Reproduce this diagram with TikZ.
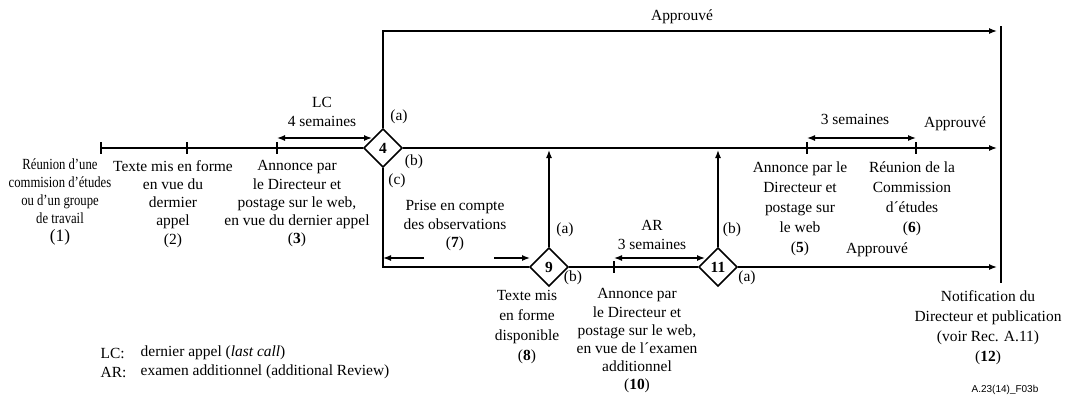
\documentclass[tikz,border=0pt]{standalone}
\usepackage{fontspec}
\setmainfont{Liberation Serif}
\newfontfamily\condfont{Liberation Serif}[FakeStretch=0.82]
\newfontfamily\labfont{Liberation Sans}
\usetikzlibrary{arrows.meta,shapes.geometric}
\begin{document}
\begin{tikzpicture}[x=0.75pt,y=-0.75pt,
  >={Latex[length=6pt,width=4.5pt]},
  every path/.style={line width=1pt},
  txt/.style={align=center,inner sep=0pt,anchor=north,font=\fontsize{11.6}{13.6}\selectfont},
  wide/.style={font=\fontsize{11.6}{15}\selectfont},
  lbl/.style={inner sep=0pt,font=\fontsize{11.6}{13}\selectfont},
  dia/.style={diamond,draw,line width=1.2pt,minimum width=29pt,minimum height=29pt,inner sep=0pt,fill=white,font=\fontsize{11.6}{13}\selectfont\bfseries}]
\useasboundingbox (0,0) rectangle (1069,407);
% coordinates
\coordinate (s1) at (101,148);
\coordinate (t2) at (187,148);
\coordinate (t3) at (277,148);
\coordinate (t5) at (807,148);
\coordinate (t6) at (916,148);
\coordinate (e1) at (997,148);
\coordinate (top1) at (383,31);
\coordinate (e2) at (997,31);
\coordinate (bar1) at (1001,26);
\coordinate (bar2) at (1001,283);
\coordinate (bl) at (383,267);
\coordinate (up9) at (549,150);
\coordinate (up11) at (718,150);
\coordinate (t10) at (614,267);
\coordinate (e3) at (997,267);
\coordinate (lcA) at (277,138);
\coordinate (lcB) at (372,138);
\coordinate (smA) at (807,138);
\coordinate (smB) at (916,138);
\coordinate (pA) at (424,258);
\coordinate (pB) at (383,258);
\coordinate (pC) at (494,258);
\coordinate (pD) at (530,258);
\coordinate (arA) at (614,258);
\coordinate (arB) at (705,258);
% diamonds
\node[dia] (d4) at (383,148) {4};
\node[dia] (d9) at (549,267) {9};
\node[dia] (d11) at (718,267) {11};
% main lines
\draw (s1) -- (d4.west);
\draw[->] (d4.east) -- (e1);
\draw[->] (d4.north) -- (top1) -- (e2);
\draw[line width=1.4pt] (bar1) -- (bar2);
\draw (d4.south) -- (bl) -- (d9.west);
\draw[->] (d9.north) -- (up9);
\draw (d9.east) -- (d11.west);
\draw[->] (d11.north) -- (up11);
\draw[->] (d11.east) -- (e3);
% ticks
\foreach \c in {s1,t2,t3,t5,t6,t10}
  \draw ([yshift=4.5pt]\c) -- ([yshift=-4.5pt]\c);
% dimension arrows
\draw[<->] (lcA) -- (lcB);
\draw[<->] (smA) -- (smB);
\draw[->] (pA) -- (pB);
\draw[->] (pC) -- (pD);
\draw[<->] (arA) -- (arB);
% labels
\node[lbl] (ap1) at (682,17) {Approuvé};
\node[lbl] (ap2) at (955,124) {Approuvé};
\node[lbl] (ap3) at (877,250) {Approuvé};
\node[lbl] (sem3) at (855,119) {3 semaines};
\node[txt] (lc) at (322,97) {LC\\4 semaines};
\node[lbl] (a4) at (399,117) {(a)};
\node[lbl] (b4) at (414,162) {(b)};
\node[lbl] (c4) at (397,181) {(c)};
\node[lbl] (a9) at (565,230) {(a)};
\node[lbl] (b9) at (573,278) {(b)};
\node[lbl] (b11) at (732,230) {(b)};
\node[lbl] (a11) at (747,278) {(a)};
\node[txt,font=\condfont\fontsize{11.6}{13.6}\selectfont] (n1) at (60,158) {Réunion d’une\\commision d’études\\ou d’un groupe\\de travail\\{\rmfamily\fontsize{13}{13.6}\selectfont(1)}};
\node[txt] (n2) at (173,160) {Texte mis en forme\\en vue du\\dermier\\appel\\(2)};
\node[txt] (n3) at (297,160) {Annonce par\\le Directeur et\\postage sur le web,\\en vue du dernier appel\\(\textbf{3})};
\node[txt] (n7) at (455,200) {Prise en compte\\des observations\\(\textbf{7})};
\node[txt] (ar) at (652,220) {AR\\3 semaines};
\node[txt,wide] (n8) at (527,290) {Texte mis\\en forme\\disponible\\(\textbf{8})};
\node[txt] (n10) at (637,288) {Annonce par\\le Directeur et\\postage sur le web,\\en vue de l´examen\\additionnel\\(\textbf{10})};
\node[txt,wide] (n5) at (800,161) {Annonce par le\\Directeur et\\postage sur\\le web\\(\textbf{5})};
\node[txt,wide] (n6) at (912,161) {Réunion de la\\Commission\\d´études\\(\textbf{6})};
\node[txt,wide] (n12) at (988,290) {Notification du\\Directeur et publication\\(voir Rec. A.11)\\(\textbf{12})};
% legend
\node[lbl,anchor=west] (lg1) at (100,353) {LC:};
\node[lbl,anchor=west] (lg1t) at (140,353) {dernier appel (\textit{last call})};
\node[lbl,anchor=west] (lg2) at (100,372) {AR:};
\node[lbl,anchor=west] (lg2t) at (140,372) {examen additionnel (additional Review)};
\node[inner sep=0pt,font=\labfont\fontsize{7.5}{8}\selectfont] (fig) at (1005,390) {A.23(14)\_F03b};
\end{tikzpicture}
\end{document}
